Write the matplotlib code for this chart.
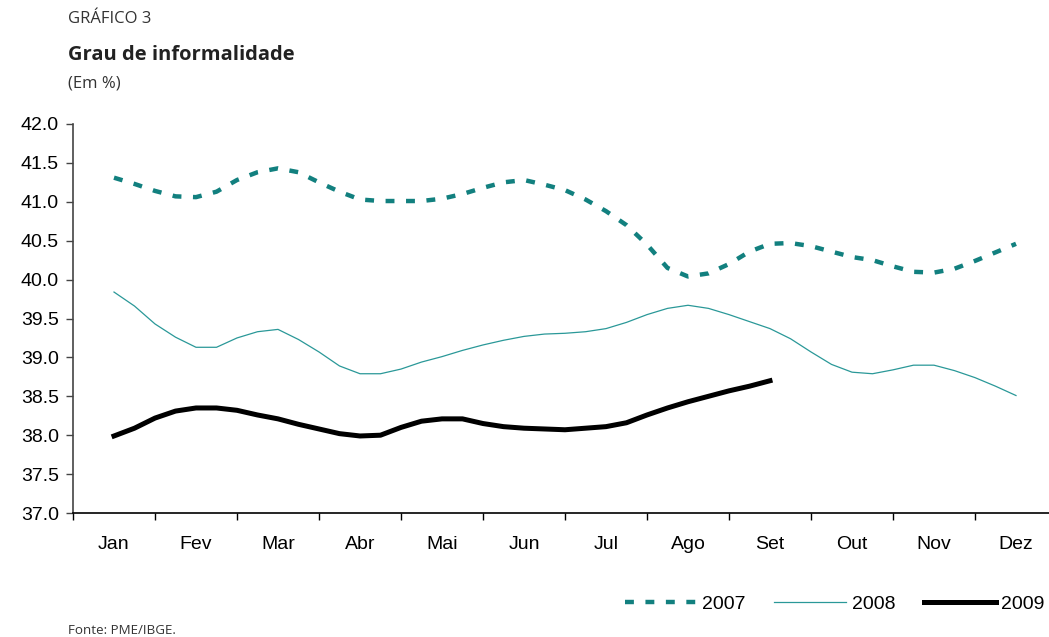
import numpy as np
import matplotlib
matplotlib.use('Agg')
import matplotlib.pyplot as plt
from matplotlib.ticker import FormatStrFormatter

# Meses do eixo horizontal
meses = ['Jan', 'Fev', 'Mar', 'Abr', 'Mai', 'Jun', 'Jul', 'Ago', 'Set', 'Out', 'Nov', 'Dez']

# Grau de informalidade (%), um valor a cada quarto de mes
inf_2007 = [41.31, 41.23, 41.14, 41.07, 41.06, 41.13, 41.28, 41.38, 41.43,
            41.38, 41.25, 41.13, 41.03, 41.01, 41.01, 41.01, 41.04, 41.10,
            41.18, 41.25, 41.28, 41.22, 41.15, 41.03, 40.88, 40.70, 40.45,
            40.15, 40.04, 40.08, 40.20, 40.36, 40.46, 40.47, 40.43, 40.36,
            40.29, 40.25, 40.17, 40.10, 40.09, 40.14, 40.24, 40.35, 40.46]
inf_2008 = [39.84, 39.66, 39.43, 39.26, 39.13, 39.13, 39.25, 39.33, 39.36,
            39.23, 39.07, 38.89, 38.79, 38.79, 38.85, 38.94, 39.01, 39.09,
            39.16, 39.22, 39.27, 39.30, 39.31, 39.33, 39.37, 39.45, 39.55,
            39.63, 39.67, 39.63, 39.55, 39.46, 39.37, 39.24, 39.07, 38.91,
            38.81, 38.79, 38.84, 38.90, 38.90, 38.83, 38.74, 38.63, 38.51]
inf_2009 = [37.99, 38.09, 38.22, 38.31, 38.35, 38.35, 38.32, 38.26, 38.21,
            38.14, 38.08, 38.02, 37.99, 38.00, 38.10, 38.18, 38.21, 38.21,
            38.15, 38.11, 38.09, 38.08, 38.07, 38.09, 38.11, 38.16, 38.26,
            38.35, 38.43, 38.50, 38.57, 38.63, 38.70]

x_2007 = np.arange(len(inf_2007)) / 4
x_2008 = np.arange(len(inf_2008)) / 4
x_2009 = np.arange(len(inf_2009)) / 4

verde = '#12807f'
verde_claro = '#2a9898'

plt.rcParams['font.family'] = ['Liberation Sans', 'DejaVu Sans']
plt.rcParams['font.size'] = 14

fig = plt.figure(figsize=(10.49, 6.37), dpi=100)
ax = fig.add_axes([73 / 1049, 124 / 637, 984 / 1049, 389 / 637])

l07, = ax.plot(x_2007, inf_2007, color=verde, lw=3.2, dashes=(2.0, 2.6),
               solid_capstyle='butt', dash_capstyle='butt', label='2007')
l08, = ax.plot(x_2008, inf_2008, color=verde_claro, lw=0.9, label='2008')
l09, = ax.plot(x_2009, inf_2009, color='black', lw=3.6, label='2009')

ax.set_xlim(-0.5, 11.5)
ax.set_ylim(37, 42)

# divisoes entre meses como ticks maiores, nomes nos ticks menores
ax.set_xticks(np.arange(-0.5, 12, 1))
ax.set_xticklabels([])
ax.set_xticks(np.arange(12), minor=True)
ax.set_xticklabels(meses, minor=True)
ax.tick_params(axis='x', which='major', direction='out', length=5, width=1)
ax.tick_params(axis='x', which='minor', length=0, pad=16.5, labelsize=14)

ax.set_yticks(np.arange(37, 42.01, 0.5))
ax.yaxis.set_major_formatter(FormatStrFormatter('%.1f'))
ax.tick_params(axis='y', direction='out', length=5, width=1, pad=5,
               labelsize=14, color='#444444')

ax.spines['top'].set_visible(False)
ax.spines['right'].set_visible(False)
ax.spines['left'].set_color('#444444')
ax.spines['left'].set_linewidth(1.2)
ax.spines['bottom'].set_linewidth(1.2)

fig.legend(handles=[l07, l08, l09], loc='center right',
           bbox_to_anchor=(0.996, 33 / 637), ncol=3, frameon=False,
           fontsize=14, handlelength=3.7, handletextpad=0.3,
           columnspacing=1.45, borderpad=0, borderaxespad=0)

fig.text(68 / 1049, 1 - 19 / 637, 'GRÁFICO 3', fontsize=12, color='#333333',
         family='Open Sans', va='center')
fig.text(68 / 1049, 1 - 55 / 637, 'Grau de informalidade', fontsize=14.5,
         fontweight='bold', color='#222222', family='Open Sans', va='center')
fig.text(68 / 1049, 1 - 83 / 637, '(Em %)', fontsize=12, color='#333333',
         family='Open Sans', va='center')
fig.text(68 / 1049, 1 - 630 / 637, 'Fonte: PME/IBGE.', fontsize=9.6,
         color='#333333', family='Open Sans', va='center')

fig.savefig('out.png', dpi=100)
